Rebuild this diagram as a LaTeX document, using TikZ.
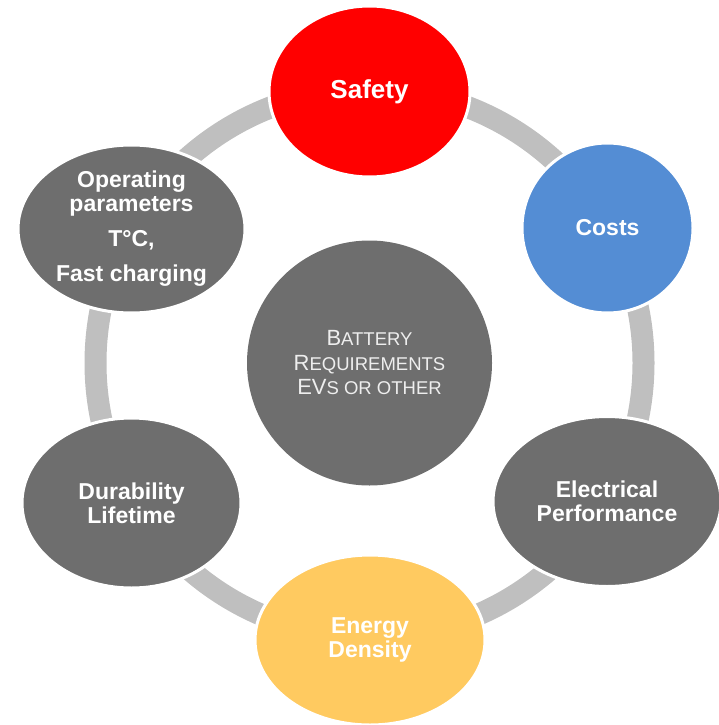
\documentclass[tikz,border=0pt]{standalone}
\usepackage{fontspec}
\setmainfont{Liberation Sans}
\usetikzlibrary{shapes.geometric,calc,positioning}

\definecolor{ringgray}{RGB}{191,191,191}
\definecolor{bubblegray}{RGB}{110,110,110}
\definecolor{safetyred}{RGB}{255,0,0}
\definecolor{costblue}{RGB}{84,141,212}
\definecolor{energygold}{RGB}{255,202,96}
\definecolor{coretext}{RGB}{238,238,238}

% fake small caps for the centre label
\newcommand{\smallcap}[1]{{\fontsize{18.5pt}{24.5pt}\selectfont #1}}

\tikzset{
  bubble/.style={ellipse, draw=white, line width=3pt, fill=bubblegray, text=white,
    font=\fontsize{23pt}{24pt}\selectfont\bfseries, align=center, inner sep=0pt,
    minimum width=228pt, minimum height=170pt},
  ring/.style={draw=ringgray, line width=22pt},
}

\begin{document}
\begin{tikzpicture}[x=1pt,y=-1pt]
		\useasboundingbox (0,0) rectangle (719,725);
		% centre circle
		\node[circle, fill=bubblegray, minimum size=245pt, inner sep=0pt, text=coretext,
		  font=\fontsize{22pt}{24.5pt}\selectfont, align=center] (core) at (369.5,363)
		  {B\smallcap{ATTERY}\\R\smallcap{EQUIREMENTS}\\EV\smallcap{S OR OTHER}};
		% grey ring behind the outer bubbles
		\draw[ring] (core.center) circle (274pt);
		% outer bubbles
		\node[bubble, fill=safetyred, minimum width=201pt, minimum height=171pt,
		  font=\fontsize{26pt}{26pt}\selectfont\bfseries] (safety) at (369.5,91.5) {Safety};
		\node[bubble, fill=costblue, minimum width=171pt, minimum height=170pt] (costs) at (607.5,228) {Costs};
		\node[bubble] (electrical) at (607,501.5) {Electrical\\Performance};
		\node[bubble, fill=energygold, minimum width=230pt] (energy) at (370,640) {Energy\\Density};
		\node[bubble, minimum width=219pt] (durability) at (131.5,503) {Durability\\Lifetime};
		\node[bubble, minimum width=227pt, minimum height=168pt] (operating) at (131.5,229)
		  {Operating\\parameters\\[11pt]T°C,\\[11pt]Fast charging};
\end{tikzpicture}
\end{document}
